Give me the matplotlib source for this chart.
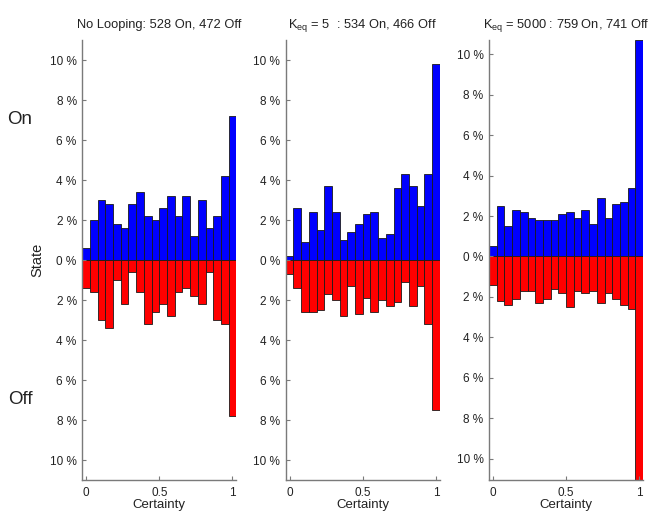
import numpy as np
import matplotlib
matplotlib.use("Agg")
import matplotlib.pyplot as plt
from matplotlib.ticker import FuncFormatter

plt.rcParams['font.family'] = ['Liberation Sans', 'DejaVu Sans']
plt.rcParams['mathtext.fontset'] = 'custom'
plt.rcParams['mathtext.rm'] = 'Liberation Sans'
plt.rcParams['mathtext.it'] = 'Liberation Sans'

# bin centres on the certainty axis
certainty = np.linspace(0, 1, 20)

titles = [
    "No Looping: 528 On, 472 Off",
    r"K$_{\rm eq}$ = 5  : 534 On, 466 Off",
    r"K$_{\rm eq}$ = 5000 : 759 On, 741 Off",
]

# percent of runs ending On / Off per certainty bin
on_noloop = [0.6, 2.0, 3.0, 2.8, 1.8, 1.6, 2.8, 3.4, 2.2, 2.0,
             2.6, 3.2, 2.2, 3.2, 1.2, 3.0, 1.6, 2.2, 4.2, 7.2]
off_noloop = [1.4, 1.6, 3.0, 3.4, 1.0, 2.2, 0.6, 1.6, 3.2, 2.6,
              2.2, 2.8, 1.6, 1.4, 1.8, 2.2, 0.6, 3.0, 3.2, 7.8]

on_k5 = [0.2, 2.6, 0.9, 2.4, 1.5, 3.7, 2.4, 1.0, 1.4, 1.8,
         2.3, 2.4, 1.1, 1.3, 3.6, 4.3, 3.7, 2.7, 4.3, 9.8]
off_k5 = [0.7, 1.4, 2.6, 2.6, 2.5, 1.7, 2.0, 2.8, 1.3, 2.7,
          1.9, 2.6, 2.0, 2.3, 2.1, 1.1, 2.3, 1.3, 3.2, 7.5]

on_k5000 = [0.5, 2.5, 1.5, 2.3, 2.2, 1.9, 1.8, 1.8, 1.8, 2.1,
            2.2, 1.9, 2.3, 1.6, 2.9, 1.9, 2.6, 2.7, 3.4, 10.7]
off_k5000 = [1.4, 2.2, 2.4, 2.1, 1.7, 1.7, 2.3, 2.1, 1.6, 1.8,
             2.5, 1.7, 1.8, 1.7, 2.3, 1.8, 2.1, 2.4, 2.6, 11.2]

on_sets = [on_noloop, on_k5, on_k5000]
off_sets = [off_noloop, off_k5, off_k5000]
ylims = [(-11, 11), (-11, 11), (-11.05, 10.7)]

y_ticks = [-10, -8, -6, -4, -2, 0, 2, 4, 6, 8, 10]
x_ticks = [0, 0.5, 1]

fig = plt.figure(figsize=(6.51, 5.13), dpi=100)
lefts = [0.1264, 0.4389, 0.7512]
width = 1 / 19
spine_col = '#7a7a7a'
text_col = '#222222'

for i in range(3):
    ax = fig.add_axes([lefts[i], 0.0643, 0.2366, 0.8577])
    ax.bar(certainty, on_sets[i], width=width, color='#0000ff',
           edgecolor='#1a1a1a', linewidth=0.6)
    ax.bar(certainty, -np.array(off_sets[i]), width=width, color='#ff0000',
           edgecolor='#1a1a1a', linewidth=0.6)
    ax.set_xlim(-width / 2, 1 + width / 2)
    ax.set_ylim(*ylims[i])
    ax.set_yticks(y_ticks)
    ax.yaxis.set_major_formatter(FuncFormatter(lambda v, p: f"{abs(v):g} %"))
    ax.set_xticks(x_ticks)
    ax.set_xticklabels(["0", "0.5", "1"])
    for s in ['top', 'right']:
        ax.spines[s].set_visible(False)
    for s in ['left', 'bottom']:
        ax.spines[s].set_color(spine_col)
        ax.spines[s].set_linewidth(1.0)
    ax.tick_params(direction='in', length=3, color=spine_col,
                   labelsize=8.5, labelcolor=text_col, pad=4)
    ax.tick_params(axis='x', pad=5)
    ax.set_xlabel("Certainty", fontsize=9.5, color=text_col, labelpad=0)
    ax.set_title(titles[i], fontsize=9.3, color=text_col, pad=9)
    if i == 0:
        ax.set_ylabel("State", fontsize=10.5, color=text_col, labelpad=4)

fig.text(20 / 651, 1 - 120 / 513, "On", fontsize=13.5, color=text_col,
         ha='center', va='center')
fig.text(20 / 651, 1 - 400 / 513, "Off", fontsize=13.5, color=text_col,
         ha='center', va='center')

fig.savefig("out.png", dpi=100)
